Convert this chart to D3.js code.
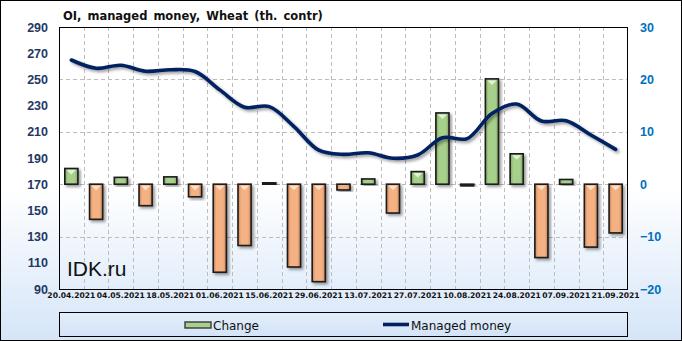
<!DOCTYPE html>
<meta charset="utf-8">
<head>
<style>
  body { margin: 0; }
  svg text { font-family: "DejaVu Sans", Verdana, sans-serif; }
</style>
</head>
<script src="https://d3js.org/d3.v7.min.js"></script>
<div id="my_dataviz"></div>
<script>

// weekly report dates
var dates = ["20.04.2021","27.04.2021","04.05.2021","11.05.2021","18.05.2021","25.05.2021",
  "01.06.2021","08.06.2021","15.06.2021","22.06.2021","29.06.2021","06.07.2021","13.07.2021",
  "20.07.2021","27.07.2021","03.08.2021","10.08.2021","17.08.2021","24.08.2021","31.08.2021",
  "07.09.2021","14.09.2021","21.09.2021"];

// managed money open interest, th. contracts (left axis)
var managed = [264.8, 258.5, 260.8, 256.2, 257.4, 256.0, 242.0, 228.8, 229.2, 214.0, 196.0,
  192.8, 194.0, 189.8, 192.3, 205.5, 204.8, 224.0, 231.2, 218.2, 218.5, 207.6, 196.6];

// week-over-week change (right axis)
var change = [3.0, -6.7, 1.3, -4.1, 1.4, -2.4, -16.8, -11.7, 0.3, -15.8, -18.6, -1.1, 1.0,
  -5.5, 2.4, 13.6, -0.3, 20.1, 5.8, -14.0, 0.9, -12.0, -9.3];

var leftTicks = [90,110,130,150,170,190,210,230,250,270,290];
var rightTicks = [-20,-10,0,10,20,30];

var W = 682, H = 341;
var plot = {left: 59, right: 628, top: 27, bottom: 289};

var svg = d3.select("#my_dataviz").append("svg")
  .attr("width", W).attr("height", H);

var defs = svg.append("defs");

// chart background
var bg = defs.append("linearGradient").attr("id", "bg")
  .attr("x1", 0).attr("y1", 0).attr("x2", 0).attr("y2", 1);
bg.append("stop").attr("offset", "0%").attr("stop-color", "#ffffff");
bg.append("stop").attr("offset", "55%").attr("stop-color", "#ffffff");
bg.append("stop").attr("offset", "100%").attr("stop-color", "#d5e5f8");

var legBg = defs.append("linearGradient").attr("id", "legbg")
  .attr("x1", 0).attr("y1", 0).attr("x2", 0).attr("y2", 1);
legBg.append("stop").attr("offset", "0%").attr("stop-color", "#e4eefa");
legBg.append("stop").attr("offset", "100%").attr("stop-color", "#d3e3f7");

function barGrad(id, edge, mid) {
  var g = defs.append("linearGradient").attr("id", id)
    .attr("x1", 0).attr("y1", 0).attr("x2", 1).attr("y2", 0);
  g.append("stop").attr("offset", "0%").attr("stop-color", edge);
  g.append("stop").attr("offset", "25%").attr("stop-color", mid);
  g.append("stop").attr("offset", "75%").attr("stop-color", mid);
  g.append("stop").attr("offset", "100%").attr("stop-color", edge);
}
barGrad("gpos", "#7ea562", "#a8d08d");
barGrad("gneg", "#cc8658", "#f4b183");

var shadow = defs.append("filter").attr("id", "shadow")
  .attr("x", "-30%").attr("y", "-30%").attr("width", "160%").attr("height", "160%");
shadow.append("feDropShadow").attr("dx", 2).attr("dy", 2).attr("stdDeviation", 1.5)
  .attr("flood-color", "#000").attr("flood-opacity", 0.4);

svg.append("rect").attr("x", 0.5).attr("y", 0.5).attr("width", W - 1).attr("height", H - 1)
  .attr("fill", "url(#bg)").attr("stroke", "#000");

// scales
var x = d3.scaleBand().domain(dates).range([plot.left, plot.right]);
var yL = d3.scaleLinear().domain([90, 290]).range([plot.bottom, plot.top]);
var yR = d3.scaleLinear().domain([-20, 30]).range([plot.bottom, plot.top]);

// grid
var grid = svg.append("g").attr("stroke", "#bdbdbd").attr("stroke-dasharray", "4,3");
dates.slice(1).forEach(function(d) {
  grid.append("line").attr("x1", Math.round(x(d)) + 0.5).attr("x2", Math.round(x(d)) + 0.5)
    .attr("y1", plot.top).attr("y2", plot.bottom);
});
rightTicks.slice(1, -1).forEach(function(t) {
  grid.append("line").attr("x1", plot.left).attr("x2", plot.right)
    .attr("y1", Math.round(yR(t)) + 0.5).attr("y2", Math.round(yR(t)) + 0.5);
});

// watermark
svg.append("text").attr("x", 67).attr("y", 276)
  .style("font-family", "'Liberation Sans', Arial, sans-serif")
  .style("font-size", "21px").attr("fill", "#111").text("IDK.ru");

// bars
var bw = x.bandwidth() * 0.53;
var bars = svg.append("g").selectAll("g").data(change).enter().append("g")
  .attr("filter", "url(#shadow)");
bars.append("rect")
  .attr("x", function(d, i) { return x(dates[i]) + (x.bandwidth() - bw) / 2; })
  .attr("y", function(d) { return Math.min(yR(d), yR(0)); })
  .attr("width", bw)
  .attr("height", function(d) { return Math.abs(yR(d) - yR(0)); })
  .attr("fill", function(d) { return d >= 0 ? "url(#gpos)" : "url(#gneg)"; })
  .attr("stroke", "#1a1a1a").attr("stroke-width", 1.6);
// bevel highlight at the top of each bar
bars.append("path")
  .attr("d", function(d, i) {
    var x0 = x(dates[i]) + (x.bandwidth() - bw) / 2;
    var top = Math.min(yR(d), yR(0));
    var h = Math.abs(yR(d) - yR(0));
    if (h < 8) return "";
    return "M" + (x0 + 2) + "," + (top + 1.5) + "L" + (x0 + bw - 2) + "," + (top + 1.5) +
      "L" + (x0 + bw / 2) + "," + (top + 6) + "Z";
  })
  .attr("fill", function(d) { return d >= 0 ? "#e2f2d6" : "#fde0c8"; });

// managed money line
var line = d3.line()
  .x(function(d, i) { return x(dates[i]) + x.bandwidth() / 2; })
  .y(function(d) { return yL(d); })
  .curve(d3.curveCatmullRom.alpha(0.5));
svg.append("path").datum(managed)
  .attr("d", line)
  .attr("fill", "none").attr("stroke", "#002060").attr("stroke-width", 3.6)
  .attr("stroke-linecap", "round")
  .attr("filter", "url(#shadow)");

// plot frame
svg.append("rect").attr("x", plot.left + 0.5).attr("y", plot.top + 0.5)
  .attr("width", plot.right - plot.left - 1).attr("height", plot.bottom - plot.top)
  .attr("fill", "none").attr("stroke", "#000");

// axes
var axL = svg.append("g").attr("transform", "translate(" + (plot.left - 11) + ",0)")
  .call(d3.axisLeft(yL).tickValues(leftTicks).tickSize(0).tickPadding(0));
axL.select(".domain").remove();
axL.selectAll("text")
  .style("font-family", "'Liberation Sans', Arial, sans-serif")
  .style("font-size", "12.5px").style("font-weight", "bold").attr("fill", "#1f3864");

var axR = svg.append("g").attr("transform", "translate(" + (plot.right + 12) + ",0)")
  .call(d3.axisRight(yR).tickValues(rightTicks).tickSize(0).tickPadding(0));
axR.select(".domain").remove();
axR.selectAll("text")
  .style("font-family", "'Liberation Sans', Arial, sans-serif")
  .style("font-size", "12.5px").style("font-weight", "bold").attr("fill", "#0070c0");

var axB = svg.append("g").attr("transform", "translate(0," + (plot.bottom + 4) + ")")
  .call(d3.axisBottom(x).tickValues(dates.filter(function(d, i) { return i % 2 === 0; }))
    .tickSize(0).tickPadding(0));
axB.select(".domain").remove();
axB.selectAll("text")
  .style("font-size", "7.6px").style("font-weight", "bold").attr("fill", "#111");

// title
svg.append("text").attr("x", 63).attr("y", 20)
  .style("font-size", "11.5px").style("font-weight", "bold").style("word-spacing", "2px")
  .attr("fill", "#111").text("OI, managed money, Wheat (th. contr)");

// legend
svg.append("rect").attr("x", plot.left + 0.5).attr("y", 312.5).attr("width", plot.right - plot.left - 1)
  .attr("height", 24).attr("fill", "url(#legbg)").attr("stroke", "#000");
svg.append("rect").attr("x", 185).attr("y", 322).attr("width", 26).attr("height", 6)
  .attr("fill", "#a8d08d").attr("stroke", "#3a3a3a").attr("stroke-width", 1.4);
svg.append("text").attr("x", 213).attr("y", 329.5).style("font-size", "12px")
  .attr("fill", "#111").text("Change");
svg.append("line").attr("x1", 383).attr("x2", 409).attr("y1", 324.5).attr("y2", 324.5)
  .attr("stroke", "#002060").attr("stroke-width", 3.6);
svg.append("text").attr("x", 411).attr("y", 329.5).style("font-size", "12px")
  .attr("fill", "#111").text("Managed money");

</script>
